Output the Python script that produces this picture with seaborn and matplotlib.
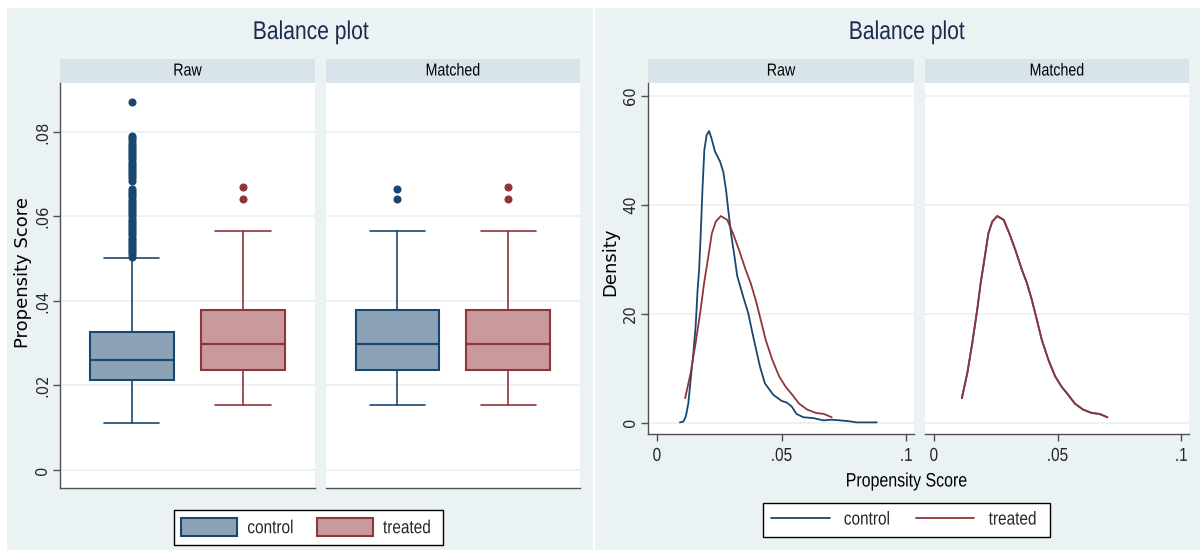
import matplotlib.pyplot as plt
import matplotlib.patches as mpatches
from matplotlib.lines import Line2D
from matplotlib.font_manager import FontProperties
from matplotlib.patheffects import AbstractPathEffect
from matplotlib.transforms import Affine2D
import seaborn as sns
import pandas as pd

# --- data ---
groups = ['control', 'treated']

# box stats: whisker low, q1, median, q3, whisker high
raw_control_box = [0.011, 0.0212, 0.026, 0.0327, 0.0502]
raw_control_out = [0.0505, 0.051, 0.0515, 0.052, 0.0525, 0.053, 0.0535, 0.054, 0.0545,
                   0.055, 0.0555, 0.056, 0.0565, 0.057, 0.0575, 0.058, 0.0585, 0.059,
                   0.0595, 0.06, 0.0605, 0.061, 0.0615, 0.062, 0.0625, 0.063, 0.0635,
                   0.064, 0.0645, 0.065, 0.0655, 0.066, 0.0665, 0.0685, 0.069, 0.0695,
                   0.070, 0.0705, 0.071, 0.0715, 0.072, 0.0725, 0.073, 0.0735, 0.074,
                   0.0745, 0.075, 0.0755, 0.076, 0.0765, 0.077, 0.0775, 0.078, 0.0785,
                   0.079, 0.087]
treated_box = [0.0153, 0.0236, 0.0297, 0.0379, 0.0566]
treated_out = [0.0641, 0.067]
matched_control_box = [0.0153, 0.0236, 0.0297, 0.0379, 0.0566]
matched_control_out = [0.0641, 0.0664]

# density curves
raw_control_x = [0.0092, 0.0106, 0.0116, 0.0126, 0.0135, 0.0146, 0.0155, 0.0163, 0.0169,
                 0.0175, 0.0183, 0.019, 0.0199, 0.0209, 0.0219, 0.0233, 0.0253, 0.0266,
                 0.0277, 0.0286, 0.0297, 0.0309, 0.0322, 0.0346, 0.0366, 0.0386, 0.0413,
                 0.0433, 0.0467, 0.050, 0.052, 0.054, 0.056, 0.0587, 0.0627, 0.0667,
                 0.0701, 0.0734, 0.0774, 0.0801, 0.0882]
raw_control_y = [0.05, 0.2, 1.2, 3.6, 7.9, 12.8, 17.6, 24.4, 28.0,
                 34.1, 43.3, 50.0, 52.7, 53.5, 52.1, 49.7, 47.9, 46.0,
                 42.7, 39.0, 34.7, 31.1, 26.9, 23.1, 20.1, 15.8, 10.3,
                 7.2, 5.1, 4.0, 3.7, 3.0, 1.6, 1.0, 0.85, 0.43,
                 0.55, 0.43, 0.25, 0.06, 0.06]
treated_x = [0.0113, 0.0135, 0.0155, 0.0175, 0.0189, 0.0206, 0.022, 0.0236, 0.0256,
             0.0282, 0.0305, 0.0329, 0.0356, 0.0376, 0.0396, 0.0416, 0.0436, 0.0463,
             0.049, 0.0516, 0.0543, 0.057, 0.0603, 0.0637, 0.067, 0.0701]
treated_y = [4.5, 9.1, 14.6, 20.7, 25.6, 30.5, 34.7, 36.9, 37.9,
             37.2, 34.7, 31.7, 28.0, 25.6, 22.5, 18.9, 15.2, 11.5,
             8.5, 6.6, 5.1, 3.5, 2.4, 1.8, 1.6, 1.0]
matched_control_x = treated_x
matched_control_y = treated_y

# --- style ---
sns.set_style('white')
plt.rcParams['font.family'] = ['DejaVu Sans']
narrow = ['Liberation Sans', 'DejaVu Sans']

navy = '#1A476F'
maroon = '#90353B'
navy_fill = '#8CA3B7'
maroon_fill = '#C89A9D'
bg = '#EAF2F3'
strip = '#D8E4EA'
spine = '#505050'
title_col = '#1C2A4F'


class Squeeze(AbstractPathEffect):
    """squeeze text horizontally about its centre (Stata's narrow font look)"""

    def __init__(self, sx=0.82):
        super().__init__()
        self.sx = sx

    def draw_path(self, renderer, gc, tpath, affine, rgbFace=None):
        v = affine.transform(tpath.vertices)
        cx = (v[:, 0].min() + v[:, 0].max()) / 2
        t = affine + Affine2D().translate(-cx, 0).scale(self.sx, 1).translate(cx, 0)
        renderer.draw_path(gc, tpath, t, rgbFace)


sq = [Squeeze(0.82)]

W, H = 1200, 551
fig = plt.figure(figsize=(12, 5.51), dpi=100)


def rect(x0, y0, x1, y1):
    return [x0 / W, 1 - y1 / H, (x1 - x0) / W, (y1 - y0) / H]


def fx(x):
    return x / W


def fy(y):
    return 1 - y / H


# panel backgrounds
for x0, x1 in [(7, 593), (595, 1200)]:
    r = rect(x0, 8, x1, 550)
    fig.patches.append(mpatches.Rectangle((r[0], r[1]), r[2], r[3], transform=fig.transFigure,
                                          facecolor=bg, edgecolor='none', zorder=-10))

# facet strips
strips = [(60, 315, 'Raw'), (326, 580, 'Matched'), (648, 914, 'Raw'), (925, 1189, 'Matched')]
for x0, x1, lab in strips:
    r = rect(x0, 59, x1, 83)
    fig.patches.append(mpatches.Rectangle((r[0], r[1]), r[2], r[3], transform=fig.transFigure,
                                          facecolor=strip, edgecolor='none', zorder=-5))
    fig.text(fx((x0 + x1) / 2), fy(71), lab, ha='center', va='center',
             family=narrow, fontsize=12.5, color='black', path_effects=sq)

for xc in [311, 907]:
    fig.text(fx(xc), fy(32), 'Balance plot', ha='center', va='center',
             family=narrow, fontsize=18.5, color=title_col, path_effects=sq)


def style_axis(ax, show_left):
    ax.set_facecolor('white')
    for s in ['top', 'right']:
        ax.spines[s].set_visible(False)
    ax.spines['left'].set_visible(show_left)
    ax.spines['left'].set_color(spine)
    ax.spines['bottom'].set_color(spine)
    ax.spines['left'].set_linewidth(1.0)
    ax.spines['bottom'].set_linewidth(1.0)
    ax.yaxis.grid(True, color=bg, lw=1.3)
    ax.xaxis.grid(False)
    ax.set_axisbelow(True)


# --- left: box plots ---
box_sets = [
    (60, 315, [(raw_control_box, raw_control_out), (treated_box, treated_out)], True),
    (326, 580, [(matched_control_box, matched_control_out), (treated_box, treated_out)], False),
]
cols = [navy, maroon]
fills = [navy_fill, maroon_fill]
for x0, x1, sets, first in box_sets:
    ax = fig.add_axes(rect(x0, 83, x1, 488))
    style_axis(ax, first)
    stats = []
    for g, (b, out) in zip(groups, sets):
        stats.append(dict(label=g, whislo=b[0], q1=b[1], med=b[2], q3=b[3], whishi=b[4], fliers=out))
    res = ax.bxp(stats, positions=[1, 2], widths=0.754, capwidths=0.5, patch_artist=True,
                 showfliers=True)
    for i in range(2):
        res['boxes'][i].set(facecolor=fills[i], edgecolor=cols[i], linewidth=1.5)
        res['medians'][i].set(color=cols[i], linewidth=1.6)
        for ln in res['whiskers'][2 * i:2 * i + 2] + res['caps'][2 * i:2 * i + 2]:
            ln.set(color=cols[i], linewidth=1.2)
        res['fliers'][i].set(marker='o', markersize=4.8, markerfacecolor=cols[i],
                             markeredgecolor=cols[i], linestyle='none')
    ax.set_xlim(0.357, 2.646)
    ax.set_ylim(-0.0043, 0.0916)
    ax.set_xticks([])
    ax.set_yticks([0, 0.02, 0.04, 0.06, 0.08])
    if first:
        ax.set_yticklabels(['0', '.02', '.04', '.06', '.08'])
        ax.tick_params(axis='y', left=True, length=5, width=1, color=spine, pad=2,
                       labelsize=10.5, labelrotation=90)
        for t in ax.get_yticklabels():
            t.set_va('center')
    else:
        ax.tick_params(axis='y', left=False, labelleft=False)
    ax.set_xlabel('')
    ax.set_ylabel('')

fig.text(fx(23), fy(272), 'Propensity Score', rotation=90, ha='center', va='center',
         fontsize=13, color='black')

# --- right: density curves ---
raw_df = pd.concat([
    pd.DataFrame({'score': raw_control_x, 'density': raw_control_y, 'group': 'control'}),
    pd.DataFrame({'score': treated_x, 'density': treated_y, 'group': 'treated'}),
])
matched_df = pd.concat([
    pd.DataFrame({'score': matched_control_x, 'density': matched_control_y, 'group': 'control'}),
    pd.DataFrame({'score': treated_x, 'density': treated_y, 'group': 'treated'}),
])
palette = {'control': navy, 'treated': maroon}
for x0, x1, df, first in [(648, 914, raw_df, True), (925, 1189, matched_df, False)]:
    ax = fig.add_axes(rect(x0, 83, x1, 434))
    style_axis(ax, first)
    sns.lineplot(data=df, x='score', y='density', hue='group', palette=palette,
                 estimator=None, sort=False, lw=1.3, legend=False, ax=ax)
    ax.set_xlim(-0.0036, 0.1031)
    ax.set_ylim(-2.07, 62.3)
    ax.set_xticks([0, 0.05, 0.1])
    ax.set_xticklabels(['0', '.05', '.1'])
    ax.tick_params(axis='x', bottom=True, length=5, width=1, color=spine, pad=5)
    for t in ax.get_xticklabels():
        t.set_fontproperties(FontProperties(family=narrow, size=13.5))
        t.set_path_effects(sq)
    ax.set_yticks([0, 20, 40, 60])
    if first:
        ax.set_yticklabels(['0', '20', '40', '60'])
        ax.tick_params(axis='y', left=True, length=5, width=1, color=spine, pad=2,
                       labelsize=10.5, labelrotation=90)
        for t in ax.get_yticklabels():
            t.set_va('center')
    else:
        ax.tick_params(axis='y', left=False, labelleft=False)
    ax.set_xlabel('')
    ax.set_ylabel('')

fig.text(fx(610), fy(262), 'Density', rotation=90, ha='center', va='center',
         fontsize=13, color='black')
fig.text(fx(907), fy(482), 'Propensity Score', ha='center', va='center',
         family=narrow, fontsize=14, color='black', path_effects=sq)

# --- legends ---
leg_font = FontProperties(family=narrow, size=13.5)
box_handles = [mpatches.Patch(facecolor=f, edgecolor=c, linewidth=1.5, label=g)
               for g, f, c in zip(groups, fills, cols)]
leg1 = fig.legend(handles=box_handles, loc='center', bbox_to_anchor=(fx(308.5), fy(527.5)),
                  ncol=2, frameon=True, fancybox=False, edgecolor='black', framealpha=1,
                  prop=leg_font, handlelength=3.0, handleheight=1.1, handletextpad=0.27,
                  columnspacing=0.96, borderpad=0.4, borderaxespad=0)
leg1.get_frame().set_linewidth(1.0)

line_handles = [Line2D([0], [0], color=c, lw=1.3, label=g) for g, c in zip(groups, cols)]
leg2 = fig.legend(handles=line_handles, loc='center', bbox_to_anchor=(fx(906.5), fy(520)),
                  ncol=2, frameon=True, fancybox=False, edgecolor='black', framealpha=1,
                  prop=leg_font, handlelength=3.1, handletextpad=0.5,
                  columnspacing=1.12, borderpad=0.45, borderaxespad=0)
leg2.get_frame().set_linewidth(1.0)
for leg in (leg1, leg2):
    for t in leg.get_texts():
        t.set_path_effects(sq)

fig.savefig('out.png', dpi=100, facecolor='white')
